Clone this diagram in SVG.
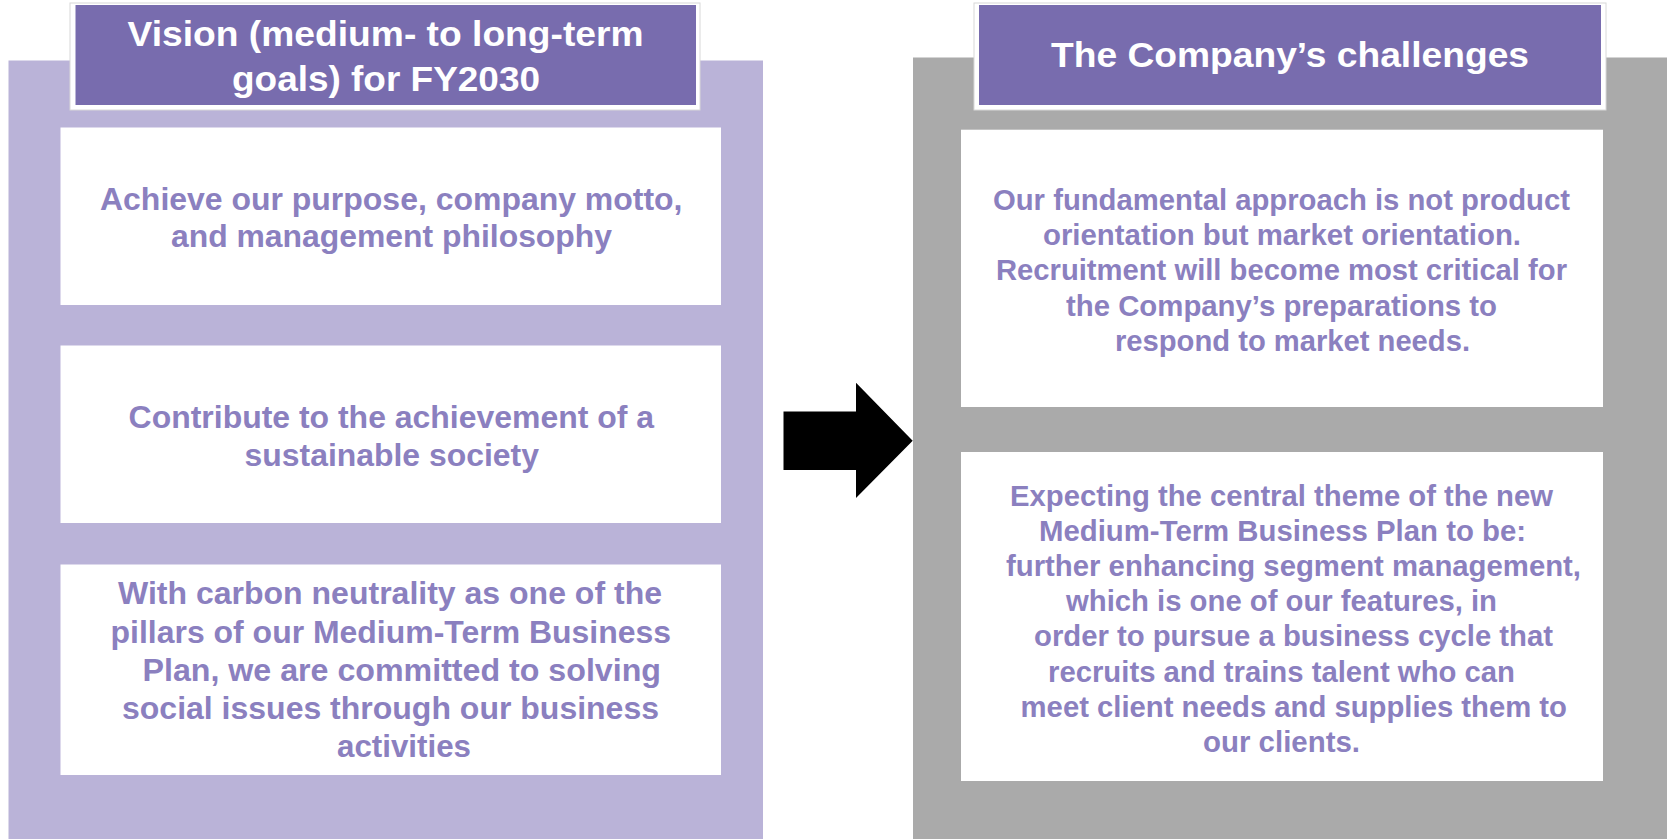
<svg xmlns="http://www.w3.org/2000/svg" width="1667" height="839" viewBox="0 0 1667 839">
<style>
.body{font-family:"Liberation Sans",Arial,sans-serif;font-weight:bold;fill:#8B80BF;font-size:31px}
.rb{font-size:29px}
.hd{font-family:"Liberation Sans",Arial,sans-serif;font-weight:bold;fill:#FFFFFF;font-size:35px}
.card{fill:#FFFFFF}
.hframe{fill:#FFFFFF;stroke:#D8D8D8;stroke-width:1}
.hfill{fill:#786CAE}
</style>
<rect width="1667" height="839" fill="#FFFFFF"/>
<g id="left-panel">
<rect x="8.5" y="60.5" width="754.5" height="778.5" fill="#BAB3D8"/>
</g>
<g id="right-panel">
<rect x="913" y="57.5" width="754" height="781.5" fill="#AAAAAA"/>
</g>
<g id="left-header">
<rect class="hframe" x="70" y="3" width="630" height="107"/>
<rect class="hfill" x="75.5" y="5" width="620.5" height="100"/>
<text class="hd" x="127.6" y="46" textLength="516" lengthAdjust="spacingAndGlyphs">Vision (medium- to long-term</text>
<text class="hd" x="232" y="91" textLength="308" lengthAdjust="spacingAndGlyphs">goals) for FY2030</text>
</g>
<g id="right-header">
<rect class="hframe" x="974" y="3" width="632" height="107"/>
<rect class="hfill" x="979" y="5" width="622" height="100"/>
<text class="hd" x="1051" y="67" textLength="478" lengthAdjust="spacingAndGlyphs">The Company’s challenges</text>
</g>
<g id="vision-1">
<rect class="card" x="60.5" y="127.5" width="660.5" height="177.5"/>
<text class="body" x="100" y="210" textLength="582.5" lengthAdjust="spacingAndGlyphs">Achieve our purpose, company motto,</text>
<text class="body" x="171" y="247" textLength="441" lengthAdjust="spacingAndGlyphs">and management philosophy</text>
</g>
<g id="vision-2">
<rect class="card" x="60.5" y="345.5" width="660.5" height="177.5"/>
<text class="body" x="128.6" y="428" textLength="525.4" lengthAdjust="spacingAndGlyphs">Contribute to the achievement of a</text>
<text class="body" x="244.5" y="466" textLength="294.5" lengthAdjust="spacingAndGlyphs">sustainable society</text>
</g>
<g id="vision-3">
<rect class="card" x="60.5" y="564.5" width="660.5" height="210.5"/>
<text class="body" x="118" y="604" textLength="544" lengthAdjust="spacingAndGlyphs">With carbon neutrality as one of the</text>
<text class="body" x="110.6" y="642.5" textLength="560.4" lengthAdjust="spacingAndGlyphs">pillars of our Medium-Term Business</text>
<text class="body" x="142.5" y="681" textLength="518.5" lengthAdjust="spacingAndGlyphs">Plan, we are committed to solving</text>
<text class="body" x="122" y="719" textLength="537" lengthAdjust="spacingAndGlyphs">social issues through our business</text>
<text class="body" x="337" y="757" textLength="134" lengthAdjust="spacingAndGlyphs">activities</text>
</g>
<g id="challenge-1">
<rect class="card" x="961" y="129.7" width="642" height="277.3"/>
<text class="body rb" x="993" y="209.5" textLength="577" lengthAdjust="spacingAndGlyphs">Our fundamental approach is not product</text>
<text class="body rb" x="1043" y="244.5" textLength="478" lengthAdjust="spacingAndGlyphs">orientation but market orientation.</text>
<text class="body rb" x="996" y="279.5" textLength="571" lengthAdjust="spacingAndGlyphs">Recruitment will become most critical for</text>
<text class="body rb" x="1066" y="315.5" textLength="431" lengthAdjust="spacingAndGlyphs">the Company’s preparations to</text>
<text class="body rb" x="1115" y="350.5" textLength="355" lengthAdjust="spacingAndGlyphs">respond to market needs.</text>
</g>
<g id="challenge-2">
<rect class="card" x="961" y="452" width="642" height="329"/>
<text class="body rb" x="1010" y="506" textLength="543" lengthAdjust="spacingAndGlyphs">Expecting the central theme of the new</text>
<text class="body rb" x="1039" y="541" textLength="487" lengthAdjust="spacingAndGlyphs">Medium-Term Business Plan to be:</text>
<text class="body rb" x="1006" y="576" textLength="575" lengthAdjust="spacingAndGlyphs">further enhancing segment management,</text>
<text class="body rb" x="1066" y="611" textLength="431" lengthAdjust="spacingAndGlyphs">which is one of our features, in</text>
<text class="body rb" x="1034" y="646" textLength="519" lengthAdjust="spacingAndGlyphs">order to pursue a business cycle that</text>
<text class="body rb" x="1048" y="682" textLength="467" lengthAdjust="spacingAndGlyphs">recruits and trains talent who can</text>
<text class="body rb" x="1020.6" y="717" textLength="546.4" lengthAdjust="spacingAndGlyphs">meet client needs and supplies them to</text>
<text class="body rb" x="1203" y="752" textLength="157" lengthAdjust="spacingAndGlyphs">our clients.</text>
</g>
<g id="connectors">
<path d="M783.5 411.5 H856 V382.7 L912.7 440.7 L856 498 V470 H783.5 Z" fill="#000000"/>
</g>
</svg>
